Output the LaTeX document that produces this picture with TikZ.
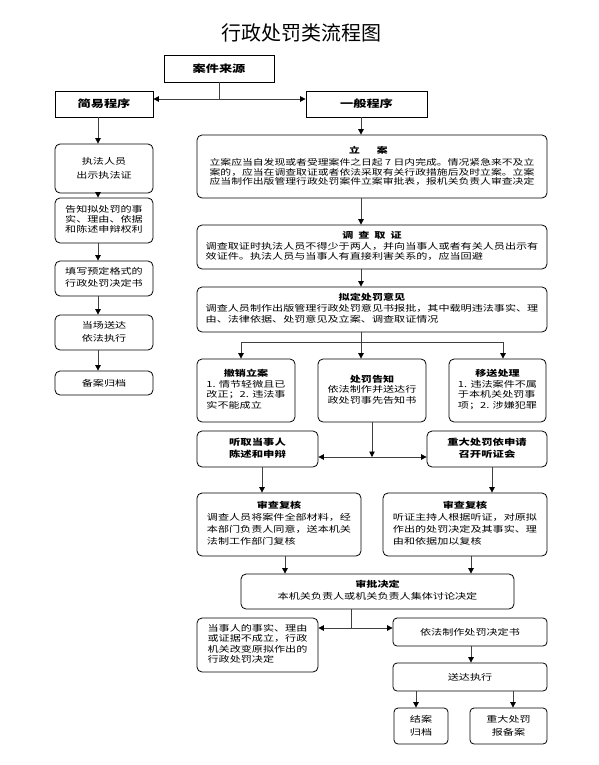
\documentclass[tikz,border=0pt]{standalone}
\usepackage{fontspec}
\usetikzlibrary{arrows.meta}
\newfontfamily\cjk[FakeStretch=1.32]{Noto Sans CJK SC}
\newfontfamily\cjkt{Noto Sans CJK SC}
\newcommand\tb[2]{\begin{tabular}{@{}#1@{}}#2\end{tabular}}
\newcommand\hd[1]{\multicolumn{1}{c}{\bfseries #1}}
\newcommand\fs[2]{\fontsize{#1}{#2}\selectfont}
\tikzset{
  wh/.style 2 args={minimum width=#1pt, minimum height=#2pt},
  sqbox/.style={draw=black, line width=0.8pt, inner sep=0pt, font=\cjk\fs{10}{12}\bfseries},
  rbox/.style={draw=black, line width=0.8pt, rounded corners=5pt, inner sep=0pt, font=\cjk\fs{8.4}{10.5}},
  con/.style={draw=black!75, line width=0.8pt},
  arr/.style={con, -{Triangle[length=5.5pt,width=5.5pt,color=black]}},
}
\begin{document}
\begin{tikzpicture}[x=1pt,y=-1pt]
\fill[white] (0,0) rectangle (599,765);
\useasboundingbox (0,0) rectangle (599,765);

\node[font=\cjkt\fs{20}{24}] (title) at (301,33) {行政处罚类流程图};

\node[sqbox, wh={110}{27}] (src) at (219,68.5) {案件来源};
\node[sqbox, wh={98}{26}] (jy) at (104,104) {简易程序};
\node[sqbox, wh={121}{26}] (yb) at (366.5,104) {一般程序};

% left column
\node[rbox, wh={98}{49}, font=\cjk\fs{8.4}{14}] (l1) at (104,168.5) {\raisebox{6.5pt}{\tb{c}{执法人员\\出示执法证}}};
\node[rbox, wh={98}{45}, font=\cjk\fs{8.4}{10}] (l2) at (104,220.5) {\tb{c}{告知拟处罚的事\\实、理由、依据\\和陈述申辩权利}};
\node[rbox, wh={98}{35}, font=\cjk\fs{8.4}{12}] (l3) at (104,278.5) {\tb{c}{填写预定格式的\\行政处罚决定书}};
\node[rbox, wh={98}{35}, font=\cjk\fs{8.4}{13}] (l4) at (104,332.5) {\tb{c}{当场送达\\依法执行}};
\node[rbox, wh={98}{24}] (l5) at (104,383) {备案归档};

% right column
\node[rbox, wh={350}{63}, font=\cjk\fs{8.2}{8.2}] (la) at (372,166.5) {\raisebox{7pt}{\tb{l}{\hd{\hspace*{-7pt}立\hspace{17pt}案}\\[3pt]
立案应当自发现或者受理案件之日起 7 日内完成。情况紧急来不及立\\
案的，应当在调查取证或者依法采取有关行政措施后及时立案。立案\\
应当制作出版管理行政处罚案件立案审批表，报机关负责人审查决定}}};
\node[rbox, wh={350}{44}, font=\cjk\fs{8.4}{10}] (dc) at (372,247) {\raisebox{1pt}{\tb{l}{\hd{调\hspace{5pt}查\hspace{5pt}取\hspace{5pt}证}\\
调查取证时执法人员不得少于两人，并向当事人或者有关人员出示有\\
效证件。执法人员与当事人有直接利害关系的，应当回避}}};
\node[rbox, wh={350}{45}, font=\cjk\fs{8.4}{11}] (nd) at (372,309.5) {\tb{l}{\hd{拟定处罚意见}\\
调查人员制作出版管理行政处罚意见书报批，其中载明违法事实、理\\
由、法律依据、处罚意见及立案、调查取证情况}};

\node[rbox, wh={98}{63}] (cx) at (246,390.5) {\raisebox{3.5pt}{\tb{l}{\hd{撤销立案}\\1. 情节轻微且已\\改正；2. 违法事\\实不能成立}}};
\node[rbox, wh={108}{63}] (cf) at (372,390.5) {\raisebox{8pt}{\tb{c}{\textbf{处罚告知}\\依法制作并送达行\\政处罚事先告知书}}};
\node[rbox, wh={97}{63}] (ys) at (497.5,390.5) {\raisebox{3.5pt}{\tb{l}{\hd{移送处理}\\1. 违法案件不属\\于本机关处罚事\\项；2. 涉嫌犯罪}}};

\node[rbox, wh={121}{36}, font=\cjk\fs{8.6}{12}\bfseries] (tq) at (257.5,449) {\tb{c}{听取当事人\\陈述和申辩}};
\node[rbox, wh={120}{36}, font=\cjk\fs{8.6}{12}\bfseries] (zd) at (487,449) {\tb{c}{重大处罚依申请\\召开听证会}};

\node[rbox, wh={164}{63}, font=\cjk\fs{8.4}{12}] (sL) at (279,524.5) {\tb{l}{\hd{审查复核}\\调查人员将案件全部材料，经\\本部门负责人同意，送本机关\\法制工作部门复核}};
\node[rbox, wh={164}{63}, font=\cjk\fs{8.4}{12}] (sR) at (465,524.5) {\tb{l}{\hd{审查复核}\\听证主持人根据听证，对原拟\\作出的处罚决定及其事实、理\\由和依据加以复核}};

\node[rbox, wh={273}{35}, font=\cjk\fs{8.4}{12}] (sp) at (377.5,591.5) {\raisebox{-2.5pt}{\tb{c}{\textbf{审批决定}\\本机关负责人或机关负责人集体讨论决定}}};

\node[rbox, wh={121}{54}, font=\cjk\fs{8.4}{10.3}] (ds) at (257.5,645) {\tb{l}{当事人的事实、理由\\或证据不成立，行政\\机关改变原拟作出的\\行政处罚决定}};
\node[rbox, rounded corners=4pt, wh={154}{28}] (yf) at (470,632) {依法制作处罚决定书};
\node[rbox, rounded corners=4pt, wh={154}{28}] (sd) at (470,677) {送达执行};
\node[rbox, rounded corners=4pt, wh={54}{36}, font=\cjk\fs{8.4}{13}] (ja) at (421,726) {\tb{c}{结案\\归档}};
\node[rbox, rounded corners=4pt, wh={77}{36}, font=\cjk\fs{8.4}{13}] (bb) at (508.5,726) {\tb{c}{重大处罚\\报备案}};

% connectors
\coordinate (J0) at (219,99);
\draw[con] (src.south) -- (J0);
\draw[arr] (J0) -- (jy.east |- J0);
\draw[arr] (J0) -- (yb.west |- J0);

\coordinate (LX) at (98,0);
\draw[arr] (jy.south -| LX) -- (l1.north -| LX);
\draw[arr] (l1.south -| LX) -- (l2.north -| LX);
\draw[arr] (l2.south -| LX) -- (l3.north -| LX);
\draw[arr] (l3.south -| LX) -- (l4.north -| LX);
\draw[arr] (l4.south -| LX) -- (l5.north -| LX);

\coordinate (RX) at (361,0);
\draw[arr] (yb.south -| RX) -- (la.north -| RX);
\draw[arr] (la.south -| RX) -- (dc.north -| RX);
\draw[arr] (dc.south -| RX) -- (nd.north -| RX);
\draw[arr] (nd.south -| RX) -- (cf.north -| RX);
\coordinate (B1) at (241,342);
\coordinate (B2) at (503,342);
\draw[con] (B1) -- (B2);
\draw[arr] (B1) -- (cx.north -| B1);
\draw[arr] (B2) -- (ys.north -| B2);

\coordinate (H1) at (372,457);
\draw[arr] (cf.south) -- (H1);
\draw[arr] (H1) -- (tq.east |- H1);
\draw[arr] (H1) -- (zd.west |- H1);

\coordinate (c262) at (262,0);
\coordinate (c492) at (492,0);
\coordinate (c285) at (285,0);
\coordinate (c471) at (471,0);
\coordinate (c416) at (416,0);
\coordinate (c513) at (513,0);
\draw[arr] (tq.south -| c262) -- (sL.north -| c262);
\draw[arr] (zd.south -| c492) -- (sR.north -| c492);
\draw[arr] (sL.south -| c285) -- (sp.north -| c285);
\draw[arr] (sR.south -| c471) -- (sp.north -| c471);

\coordinate (H2) at (351,628);
\draw[con] (sp.south -| H2) -- (H2);
\draw[arr] (H2) -- (ds.east |- H2);
\draw[arr] (H2) -- (yf.west |- H2);
\draw[arr] (yf.south -| c471) -- (sd.north -| c471);
\draw[arr] (sd.south -| c416) -- (ja.north -| c416);
\draw[arr] (sd.south -| c513) -- (bb.north -| c513);
\end{tikzpicture}
\end{document}
